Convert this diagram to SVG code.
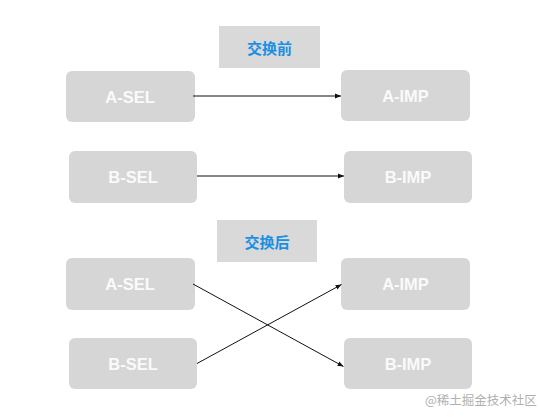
<svg xmlns="http://www.w3.org/2000/svg" width="540" height="419" viewBox="0 0 540 419">
<style>
.node{fill:#d6d6d6;}
.title{fill:#d9d9d9;}
.nt{font-family:"Liberation Sans",Arial,sans-serif;font-weight:bold;font-size:16.5px;fill:#fafafa;text-anchor:middle;dominant-baseline:central;}
.tt{font-family:"Noto Sans CJK SC","Noto Sans",sans-serif;font-weight:bold;font-size:15px;fill:#1a8fe3;text-anchor:middle;dominant-baseline:central;}
.wm{font-family:"Noto Sans CJK SC","Noto Sans",sans-serif;font-size:12.5px;fill:#b0b0b0;}
.edge{stroke:#111;stroke-width:1;fill:none;marker-end:url(#ah);}
</style>
<defs>
<marker id="ah" viewBox="0 0 10 10" refX="10" refY="5" markerWidth="6" markerHeight="6" markerUnits="userSpaceOnUse" orient="auto">
<path d="M0,1 L10,5 L0,9 z" fill="#111"/>
</marker>
</defs>
<rect width="540" height="419" fill="#ffffff"/>
<g id="title-before"><rect class="title" x="219" y="26" width="101" height="42"/><text class="tt" x="269.5" y="47">交换前</text></g>
<g id="before-a-sel"><rect class="node" x="66" y="71" width="129" height="51" rx="6"/><text class="nt" x="130" y="97">A-SEL</text></g>
<g id="before-a-imp"><rect class="node" x="341" y="70" width="129" height="51" rx="6"/><text class="nt" x="405.5" y="96">A-IMP</text></g>
<g id="before-b-sel"><rect class="node" x="69" y="151" width="128" height="52" rx="6"/><text class="nt" x="133" y="177">B-SEL</text></g>
<g id="before-b-imp"><rect class="node" x="344" y="151" width="128" height="52" rx="6"/><text class="nt" x="408" y="177">B-IMP</text></g>
<g id="title-after"><rect class="title" x="217" y="220" width="100" height="42"/><text class="tt" x="267" y="241">交换后</text></g>
<g id="after-a-sel"><rect class="node" x="66" y="258" width="129" height="52" rx="6"/><text class="nt" x="130" y="284">A-SEL</text></g>
<g id="after-a-imp"><rect class="node" x="341" y="258" width="129" height="52" rx="6"/><text class="nt" x="405.5" y="284">A-IMP</text></g>
<g id="after-b-sel"><rect class="node" x="69" y="338" width="128" height="51" rx="6"/><text class="nt" x="133" y="364">B-SEL</text></g>
<g id="after-b-imp"><rect class="node" x="344" y="338" width="128" height="51" rx="6"/><text class="nt" x="408" y="364">B-IMP</text></g>
<g id="connectors">
<line class="edge" x1="193" y1="96" x2="341" y2="96"/>
<line class="edge" x1="197" y1="176" x2="344" y2="176"/>
<line class="edge" x1="193" y1="284" x2="343.5" y2="366.5"/>
<line class="edge" x1="197" y1="363.5" x2="341.5" y2="284.5"/>
</g>
<text class="wm" x="425" y="404.5">@稀土掘金技术社区</text>
</svg>
